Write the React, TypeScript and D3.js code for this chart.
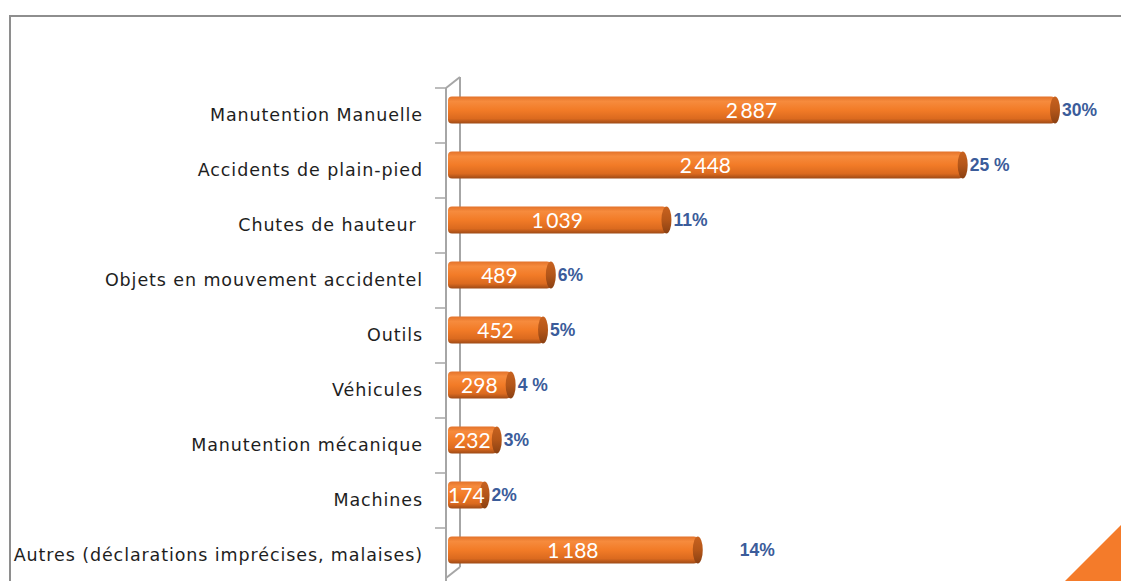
import React from 'react';
import * as d3 from 'd3';

const categories = [
  'Manutention Manuelle',
  'Accidents de plain-pied',
  'Chutes de hauteur ',
  'Objets en mouvement accidentel',
  'Outils',
  'Véhicules',
  'Manutention mécanique',
  'Machines',
  'Autres (déclarations imprécises, malaises)',
];
const values = [2887, 2448, 1039, 489, 452, 298, 232, 174, 1188];
const percents = ['30%', '25 %', '11%', '6%', '5%', '4 %', '3%', '2%', '14%'];

const W = 1121;
const H = 581;

const frLocale = d3.formatLocale({ decimal: ',', thousands: '\u2009', grouping: [3], currency: ['', ''] });
const fmt = frLocale.format(',d');

export default function App() {
  const x = d3.scaleLinear().domain([0, 2887]).range([448, 1055]);
  const y = d3.scaleBand<string>().domain(categories).range([88, 583]).paddingInner(0);
  const barH = 27;
  const capRx = 5;
  const wallL = 446;
  const wallR = 460;
  const depth = 11;
  const [y0] = y.range();
  const yEnd = 581;

  return (
    <div style={{ position: 'absolute', left: 0, top: 0 }}>
      <svg width={W} height={H} style={{ display: 'block', background: '#fff' }}>
        <defs>
          <linearGradient id="cyl" x1="0" y1="0" x2="0" y2="1">
            <stop offset="0%" stopColor="#E3722A" />
            <stop offset="18%" stopColor="#F68B3D" />
            <stop offset="50%" stopColor="#F27B27" />
            <stop offset="82%" stopColor="#DB6A1F" />
            <stop offset="100%" stopColor="#9E4A16" />
          </linearGradient>
          <linearGradient id="cap" x1="0" y1="0" x2="0" y2="1">
            <stop offset="0%" stopColor="#C8621F" />
            <stop offset="50%" stopColor="#B45619" />
            <stop offset="100%" stopColor="#8A4012" />
          </linearGradient>
        </defs>

        {/* outer frame */}
        <path d={`M10,${H + 2} L10,16 L${W + 2},16`} fill="none" stroke="#8E8E8E" strokeWidth={2} />

        {/* corner accent */}
        <polygon points={`1065,${H} ${W},525 ${W},${H}`} fill="#F47B2A" />

        {/* 3d wall of category axis */}
        <g stroke="#A6A6A6" strokeWidth={2} fill="none">
          <line x1={wallL} y1={y0} x2={wallL} y2={yEnd} />
          <line x1={wallR} y1={y0 - depth} x2={wallR} y2={yEnd - depth - 3} />
          <line x1={wallL} y1={y0} x2={wallR} y2={y0 - depth} />
          <line x1={wallL} y1={yEnd - 3} x2={wallR} y2={yEnd - depth - 3} />
        </g>
        <g stroke="#A6A6A6" strokeWidth={1.5}>
          {categories.map((c) => (
            <line key={c} x1={435} x2={wallL} y1={y(c)!} y2={y(c)!} />
          ))}
        </g>

        {/* category labels */}
        <g
          fontFamily="'DejaVu Sans', 'Noto Sans', sans-serif"
          fontSize={17.5}
          letterSpacing={0.9}
          fill="#1e1e1e"
          textAnchor="end"
        >
          {categories.map((c) => (
            <text key={c} x={423} y={y(c)! + y.bandwidth() / 2 - 1} dy="0.35em" style={{ whiteSpace: 'pre' }}>
              {c}
            </text>
          ))}
        </g>

        {/* cylinder bars */}
        {categories.map((c, i) => {
          const cy = y(c)! + y.bandwidth() / 2 - 5.5;
          const xs = x(0);
          const xe = x(values[i]);
          return (
            <g key={c}>
              <rect x={xs} y={cy - barH / 2} width={xe - xs} height={barH} rx={4} fill="url(#cyl)" />
              <ellipse cx={xe} cy={cy} rx={capRx} ry={barH / 2} fill="url(#cap)" />
              <text
                x={(xs + xe) / 2}
                y={cy}
                dy="0.36em"
                textAnchor="middle"
                fontFamily="Lato, 'Noto Sans', sans-serif"
                fontSize={21}
                fill="#fff"
              >
                {fmt(values[i])}
              </text>
              <text
                x={xe + capRx + 2 + (i === categories.length - 1 ? 35 : 0)}
                y={cy}
                dy="0.36em"
                fontFamily="'Liberation Sans', Arial, sans-serif"
                fontWeight="bold"
                fontSize={17.5}
                fill="#3B5C9A"
                style={{ whiteSpace: 'pre' }}
              >
                {percents[i]}
              </text>
            </g>
          );
        })}
      </svg>
    </div>
  );
}
